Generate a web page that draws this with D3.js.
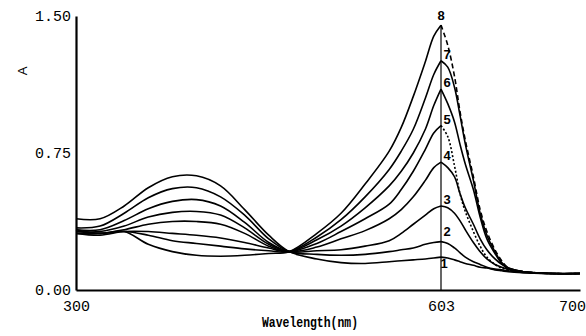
<!DOCTYPE html>
<html>
<head>
<meta charset="utf-8">
<script src="https://cdn.jsdelivr.net/npm/d3@7"></script>
<style>
  body { margin: 0; background: #fff; }
  svg { display: block; }
</style>
</head>
<body>
<svg id="chart" width="586" height="336"></svg>
<script>
// wavelength grid (nm) shared by all spectra
const wavelengths = [300, 320, 340, 360, 380, 400, 420, 440, 460, 477, 500, 520, 540, 560, 570, 580, 590, 597, 603,
  608, 613, 617, 621, 627, 632, 637, 643, 648, 653, 664, 685, 706];

// absorbance of each spectrum, 1 .. 8
const curve1 = [0.39, 0.39, 0.46, 0.56, 0.62, 0.625, 0.57, 0.44, 0.30, 0.21, 0.17, 0.15, 0.145, 0.155, 0.16, 0.165, 0.17, 0.175, 0.18,
  0.175, 0.165, 0.155, 0.145, 0.135, 0.125, 0.12, 0.11, 0.105, 0.10, 0.095, 0.09, 0.09];
const curve2 = [0.34, 0.35, 0.42, 0.505, 0.555, 0.56, 0.51, 0.41, 0.28, 0.21, 0.195, 0.19, 0.195, 0.21, 0.22, 0.23, 0.25, 0.26, 0.265,
  0.255, 0.23, 0.205, 0.18, 0.155, 0.14, 0.125, 0.115, 0.11, 0.105, 0.095, 0.09, 0.09];
const curve3 = [0.33, 0.33, 0.38, 0.445, 0.485, 0.495, 0.46, 0.37, 0.26, 0.21, 0.215, 0.22, 0.24, 0.27, 0.31, 0.36, 0.41, 0.445, 0.46,
  0.45, 0.42, 0.38, 0.33, 0.26, 0.21, 0.17, 0.14, 0.125, 0.115, 0.10, 0.09, 0.09];
const curve4 = [0.32, 0.32, 0.35, 0.40, 0.425, 0.43, 0.41, 0.34, 0.25, 0.21, 0.235, 0.28, 0.325, 0.39, 0.44, 0.51, 0.60, 0.67, 0.70,
  0.67, 0.62, 0.53, 0.45, 0.36, 0.28, 0.22, 0.17, 0.14, 0.12, 0.10, 0.09, 0.09];
const curve5 = [0.31, 0.31, 0.33, 0.36, 0.375, 0.375, 0.36, 0.31, 0.24, 0.21, 0.255, 0.32, 0.39, 0.47, 0.55, 0.65, 0.77, 0.86, 0.90,
  0.84, 0.68, 0.53, 0.43, 0.32, 0.24, 0.18, 0.14, 0.12, 0.11, 0.10, 0.09, 0.09];
const curve6 = [0.31, 0.30, 0.32, 0.32, 0.31, 0.30, 0.285, 0.26, 0.23, 0.21, 0.275, 0.35, 0.45, 0.57, 0.65, 0.75, 0.88, 1.01, 1.10,
  1.02, 0.92, 0.80, 0.69, 0.55, 0.40, 0.28, 0.20, 0.145, 0.115, 0.10, 0.09, 0.09];
const curve7 = [0.32, 0.31, 0.32, 0.30, 0.27, 0.255, 0.24, 0.225, 0.215, 0.21, 0.29, 0.385, 0.51, 0.66, 0.76, 0.88, 1.05, 1.18, 1.255,
  1.22, 1.11, 0.96, 0.80, 0.60, 0.42, 0.30, 0.21, 0.15, 0.12, 0.10, 0.09, 0.09];
const curve8 = [0.33, 0.31, 0.32, 0.25, 0.21, 0.19, 0.185, 0.19, 0.20, 0.21, 0.31, 0.42, 0.58, 0.76, 0.89, 1.06, 1.25, 1.39, 1.45,
  1.34, 1.17, 0.98, 0.82, 0.62, 0.44, 0.32, 0.22, 0.16, 0.12, 0.10, 0.09, 0.09];

const series = [curve1, curve2, curve3, curve4, curve5, curve6, curve7, curve8];
const curveLabels = ['1', '2', '3', '4', '5', '6', '7', '8'];
const peakWavelength = 603;
const xTicks = [300, 603, 700];
const yTicks = [0, 0.75, 1.5];

const svg = d3.select('#chart');

// the scanned axis is not quite even, so the scale bends at 603
const xScale = d3.scaleLinear()
  .domain([300, 603, 706])
  .range([76, 441, 580]);

const yScale = d3.scaleLinear()
  .domain([0, 1.5])
  .range([290, 16]);

const line = d3.line()
  .x(d => xScale(d[0]))
  .y(d => yScale(d[1]))
  .curve(d3.curveCatmullRom.alpha(0.5));

// right-hand flanks of spectra 5 and 8 are dotted / dashed in the original
const rightDash = [null, null, null, null, '2,2', null, null, '5,3'];

const plot = svg.append('g');

series.forEach((vals, i) => {
  const pts = wavelengths.map((w, j) => [w, vals[j]]);
  const left = pts.filter(p => p[0] <= peakWavelength);
  const right = pts.filter(p => p[0] >= peakWavelength);

  plot.append('path')
    .attr('d', line(left))
    .attr('fill', 'none')
    .attr('stroke', '#000')
    .attr('stroke-width', 1.6);

  plot.append('path')
    .attr('d', line(right))
    .attr('fill', 'none')
    .attr('stroke', '#000')
    .attr('stroke-width', 1.6)
    .attr('stroke-dasharray', rightDash[i]);
});

// marker line at the band maximum
const topPeak = d3.max(series, s => s[wavelengths.indexOf(peakWavelength)]);
plot.append('line')
  .attr('x1', xScale(peakWavelength))
  .attr('x2', xScale(peakWavelength))
  .attr('y1', yScale(topPeak))
  .attr('y2', yScale(0))
  .attr('stroke', '#000')
  .attr('stroke-width', 1.2);

// curve numbers next to each maximum
plot.selectAll('.peak-label')
  .data(series)
  .enter()
  .append('text')
  .attr('class', 'peak-label')
  .attr('x', (d, i) => xScale(peakWavelength) + (i === 7 ? 0 : i === 0 ? 3 : 6))
  .attr('y', (d, i) => {
    const py = yScale(d[wavelengths.indexOf(peakWavelength)]);
    if (i === 0) return py + 11;
    if (i === 1) return py - 6;
    if (i === 7) return py - 5;
    return py - 2;
  })
  .attr('text-anchor', 'middle')
  .attr('font-family', 'Liberation Sans, Arial, sans-serif')
  .attr('font-weight', 'bold')
  .attr('font-size', 13)
  .text((d, i) => curveLabels[i]);

// axes
const xAxis = d3.axisBottom(xScale)
  .tickValues(xTicks)
  .tickSize(0)
  .tickSizeOuter(0)
  .tickPadding(10)
  .tickFormat(d3.format('d'));

const yAxis = d3.axisLeft(yScale)
  .tickValues(yTicks)
  .tickSize(0)
  .tickSizeOuter(0)
  .tickPadding(5)
  .tickFormat(d3.format('.2f'));

const gx = svg.append('g')
  .attr('transform', `translate(0, ${yScale(0)})`)
  .call(xAxis);

const gy = svg.append('g')
  .attr('transform', `translate(${xScale(300)}, 0)`)
  .call(yAxis);

[gx, gy].forEach(g => {
  g.select('.domain').attr('stroke', '#000').attr('stroke-width', 2.2);
  g.selectAll('text')
    .attr('fill', '#000')
    .attr('font-family', 'Liberation Mono, DejaVu Sans Mono, monospace')
    .attr('font-size', 15);
});

svg.append('text')
  .attr('x', 310)
  .attr('y', 327)
  .attr('text-anchor', 'middle')
  .attr('font-family', 'Liberation Mono, DejaVu Sans Mono, monospace')
  .attr('font-weight', 'bold')
  .attr('font-size', 14)
  .attr('textLength', 96)
  .attr('lengthAdjust', 'spacingAndGlyphs')
  .text('Wavelength(nm)');

svg.append('text')
  .attr('transform', 'translate(27, 71) rotate(-90)')
  .attr('text-anchor', 'middle')
  .attr('font-family', 'Liberation Sans, Arial, sans-serif')
  .attr('font-size', 13)
  .text('A');
</script>
</body>
</html>
